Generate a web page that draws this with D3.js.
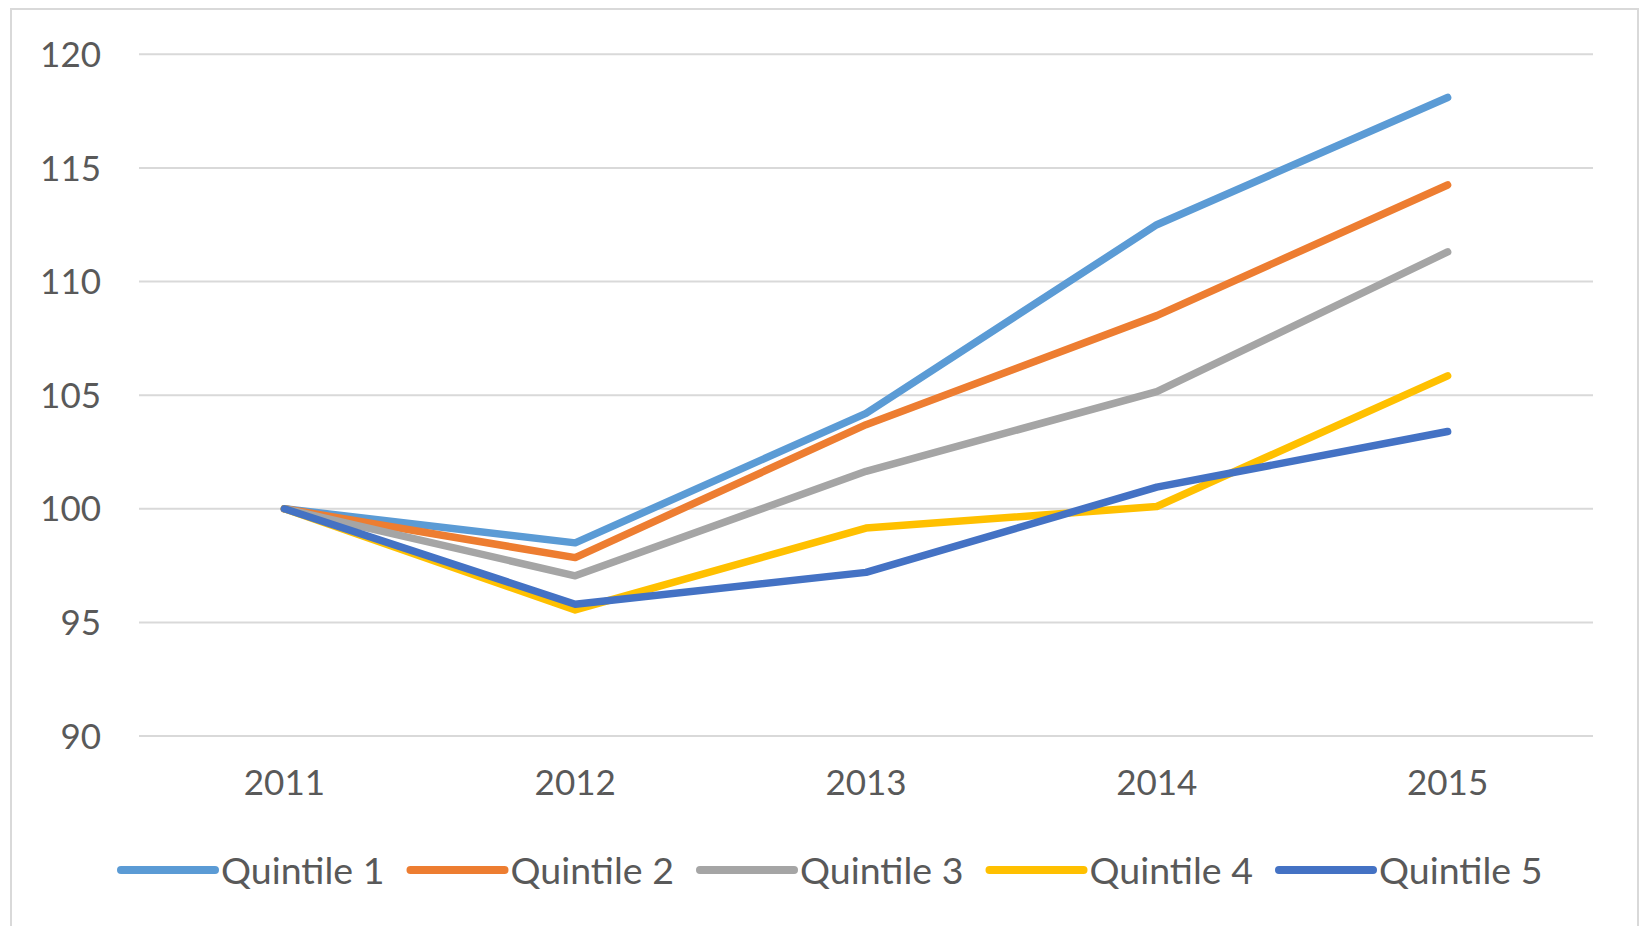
<!DOCTYPE html>
<html>
<head>
<meta charset="utf-8">
<script src="https://cdn.jsdelivr.net/npm/d3@7"></script>
<style>
    body { margin: 0; background: #fff; }
    svg text { font-family: Lato, "Liberation Sans", sans-serif; fill: #595959; }
</style>
</head>
<body>
<svg id="chart" width="1640" height="926"></svg>
<script>
// Data (index, 2011 = 100)
var years = ['2011', '2012', '2013', '2014', '2015']
var seriesNames = ['Quintile 1', 'Quintile 2', 'Quintile 3', 'Quintile 4', 'Quintile 5']
var quintile1 = [100, 98.5, 104.2, 112.5, 118.1]
var quintile2 = [100, 97.85, 103.7, 108.5, 114.25]
var quintile3 = [100, 97.05, 101.65, 105.15, 111.3]
var quintile4 = [100, 95.55, 99.15, 100.1, 105.85]
var quintile5 = [100, 95.8, 97.2, 100.95, 103.4]
var yTicks = [90, 95, 100, 105, 110, 115, 120]
var colors = ['#5B9BD5', '#ED7D31', '#A5A5A5', '#FFC000', '#4472C4']

var allSeries = [quintile1, quintile2, quintile3, quintile4, quintile5]

var svg = d3.select('#chart')

// chart border
svg.append('rect')
    .attr('x', 11)
    .attr('y', 9)
    .attr('width', 1627)
    .attr('height', 940)
    .attr('fill', 'none')
    .attr('stroke', '#d9d9d9')
    .attr('stroke-width', 2)

let plotLeft = 139,
    plotRight = 1593,
    plotTop = 54.3,
    plotBottom = 736

let xScale = d3.scaleBand().domain(years).range([plotLeft, plotRight]),
    yScale = d3.scaleLinear().domain([90, 120]).range([plotBottom, plotTop])

// gridlines
svg.append('g')
    .attr('id', 'grid')
    .selectAll('line')
    .data(yTicks)
    .enter()
    .append('line')
    .attr('x1', plotLeft)
    .attr('x2', plotRight)
    .attr('y1', d => yScale(d))
    .attr('y2', d => yScale(d))
    .attr('stroke', '#d9d9d9')
    .attr('stroke-width', 2)

// y axis labels
svg.append('g')
    .attr('id', 'yaxis')
    .selectAll('text')
    .data(yTicks)
    .enter()
    .append('text')
    .attr('x', 101)
    .attr('y', d => yScale(d))
    .attr('dy', '0.36em')
    .attr('text-anchor', 'end')
    .style('font-size', '35px')
    .text(d => d)

// x axis labels
svg.append('g')
    .attr('id', 'xaxis')
    .selectAll('text')
    .data(years)
    .enter()
    .append('text')
    .attr('x', d => xScale(d) + xScale.bandwidth() / 2)
    .attr('y', 782)
    .attr('dy', '0.36em')
    .attr('text-anchor', 'middle')
    .style('font-size', '35px')
    .text(d => d)

// lines
let line = d3.line()
    .x((d, i) => xScale(years[i]) + xScale.bandwidth() / 2)
    .y(d => yScale(d))

svg.append('g')
    .attr('id', 'lines')
    .selectAll('path')
    .data(allSeries)
    .enter()
    .append('path')
    .attr('d', d => line(d))
    .attr('fill', 'none')
    .attr('stroke', (d, i) => colors[i])
    .attr('stroke-width', 7.5)
    .attr('stroke-linejoin', 'round')
    .attr('stroke-linecap', 'round')

// legend
let legend = svg.append('g')
    .attr('id', 'legend')
    .selectAll('g')
    .data(seriesNames)
    .enter()
    .append('g')
    .attr('transform', (d, i) => `translate(${121 + i * 289.5}, 870)`)

legend.append('line')
    .attr('x1', 0)
    .attr('x2', 94)
    .attr('stroke', (d, i) => colors[i])
    .attr('stroke-width', 8)
    .attr('stroke-linecap', 'round')

legend.append('text')
    .attr('x', 100)
    .attr('dy', '0.36em')
    .style('font-size', '37.5px')
    .text(d => d)
</script>
</body>
</html>
